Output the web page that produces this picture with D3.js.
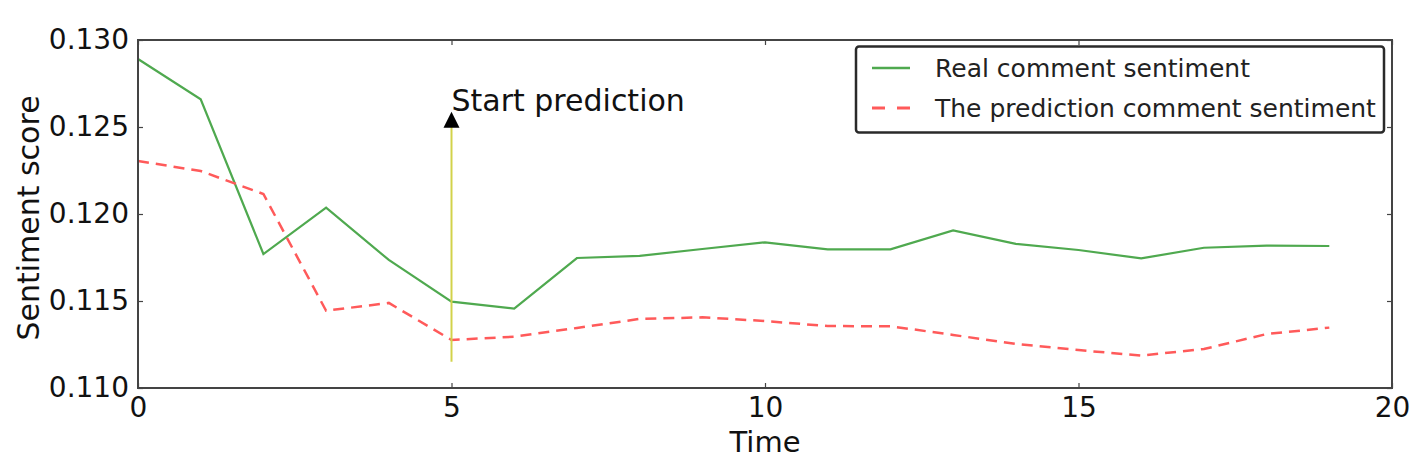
<!DOCTYPE html>
<html>
<head>
<meta charset="utf-8">
<script src="https://cdn.jsdelivr.net/npm/d3@7"></script>
<style>
  html, body { margin: 0; padding: 0; background: #fff; }
  svg { display: block; font-family: "DejaVu Sans", sans-serif; }
</style>
</head>
<body>
<svg id="chart" width="1426" height="476"></svg>
<script>
// ---- data ----
const timeSteps = d3.range(0, 20);
const realSentiment = [0.12891, 0.12659, 0.11770, 0.12036, 0.11736, 0.11496, 0.11456, 0.11747, 0.11759, 0.11799,
                       0.11837, 0.11797, 0.11797, 0.11906, 0.11828, 0.11793, 0.11745, 0.11806, 0.11818, 0.11816];
const predSentiment = [0.12305, 0.12247, 0.12115, 0.11444, 0.11489, 0.11276, 0.11295, 0.11345, 0.11397, 0.11406,
                       0.11385, 0.11356, 0.11355, 0.11305, 0.11253, 0.11218, 0.11186, 0.11224, 0.11310, 0.11347];
const xTicks = [0, 5, 10, 15, 20];
const yTicks = [0.110, 0.115, 0.120, 0.125, 0.130];
const seriesNames = ["Real comment sentiment", "The prediction comment sentiment"];
const annotation = { text: "Start prediction", x: 5, yFrom: 0.11151, yTo: 0.12588 };

// ---- layout ----
const svg = d3.select("#chart");
const m = { left: 138, right: 1392, top: 40, bottom: 388 };
const x = d3.scaleLinear().domain([0, 20]).range([m.left, m.right]);
const y = d3.scaleLinear().domain([0.110, 0.130]).range([m.bottom, m.top]);

const green = "#4fa94f";
const red = "#ff5a5a";
const axisColor = "#444";

// lines
const line = d3.line().x((d, i) => x(timeSteps[i])).y(d => y(d));
svg.append("path").datum(realSentiment).attr("d", line)
  .attr("fill", "none").attr("stroke", green).attr("stroke-width", 2.2);
svg.append("path").datum(predSentiment).attr("d", line)
  .attr("fill", "none").attr("stroke", red).attr("stroke-width", 2.5)
  .attr("stroke-dasharray", "11,7");

// annotation arrow
const ax = x(annotation.x);
const tipY = y(annotation.yTo);
svg.append("line").attr("x1", ax).attr("x2", ax)
  .attr("y1", y(annotation.yFrom)).attr("y2", tipY + 14)
  .attr("stroke", "#d2d24a").attr("stroke-width", 2);
svg.append("path")
  .attr("d", `M${ax},${tipY} L${ax - 8},${tipY + 16} L${ax + 8},${tipY + 16} Z`)
  .attr("fill", "#000");
svg.append("text").attr("x", ax).attr("y", tipY - 1)
  .attr("font-size", 30).attr("fill", "#111").text(annotation.text);

// axes frame
svg.append("rect").attr("x", m.left).attr("y", m.top)
  .attr("width", m.right - m.left).attr("height", m.bottom - m.top)
  .attr("fill", "none").attr("stroke", axisColor).attr("stroke-width", 2);

// ticks (inward, all four sides)
const tl = 5;
const bottomAxis = d3.axisBottom(x).tickValues(xTicks).tickSize(-tl).tickPadding(10).tickFormat(d3.format("d"));
const gB = svg.append("g").attr("transform", `translate(0,${m.bottom})`).call(bottomAxis);
const topAxis = d3.axisTop(x).tickValues(xTicks).tickSize(-tl).tickFormat("");
const gT = svg.append("g").attr("transform", `translate(0,${m.top})`).call(topAxis);
const leftAxis = d3.axisLeft(y).tickValues(yTicks).tickSize(-tl).tickPadding(9).tickFormat(d3.format(".3f"));
const gL = svg.append("g").attr("transform", `translate(${m.left},0)`).call(leftAxis);
const rightAxis = d3.axisRight(y).tickValues(yTicks).tickSize(-tl).tickFormat("");
const gR = svg.append("g").attr("transform", `translate(${m.right},0)`).call(rightAxis);
[gB, gT, gL, gR].forEach(g => {
  g.select(".domain").remove();
  g.selectAll(".tick line").attr("stroke", axisColor).attr("stroke-width", 1.2);
  g.selectAll("text").attr("font-family", "DejaVu Sans").attr("font-size", 28).attr("fill", "#111");
});
gB.selectAll(".tick text").attr("dy", "0.71em").attr("y", 9);

// axis labels
svg.append("text").attr("x", (m.left + m.right) / 2).attr("y", 452)
  .attr("text-anchor", "middle").attr("font-size", 29).attr("fill", "#111").text("Time");
svg.append("text").attr("transform", `translate(39,${(m.top + m.bottom) / 2 + 4}) rotate(-90)`)
  .attr("text-anchor", "middle").attr("font-size", 30).attr("fill", "#111").text("Sentiment score");

// legend
const lg = svg.append("g");
lg.append("rect").attr("x", 856).attr("y", 46.5).attr("width", 528).attr("height", 86)
  .attr("rx", 3).attr("fill", "#fff").attr("stroke", "#2a2a2a").attr("stroke-width", 2.5);
const legendItems = [
  { name: seriesNames[0], color: green, dash: null, w: 2.6 },
  { name: seriesNames[1], color: red, dash: "13,12", w: 3 }
];
legendItems.forEach((it, i) => {
  const cy = 68 + i * 40;
  lg.append("line").attr("x1", 872).attr("x2", 910).attr("y1", cy).attr("y2", cy)
    .attr("stroke", it.color).attr("stroke-width", it.w)
    .attr("stroke-dasharray", it.dash);
  lg.append("text").attr("x", 935).attr("y", cy).attr("dy", "0.35em")
    .attr("font-size", 25).attr("fill", "#222").text(it.name);
});
</script>
</body>
</html>
